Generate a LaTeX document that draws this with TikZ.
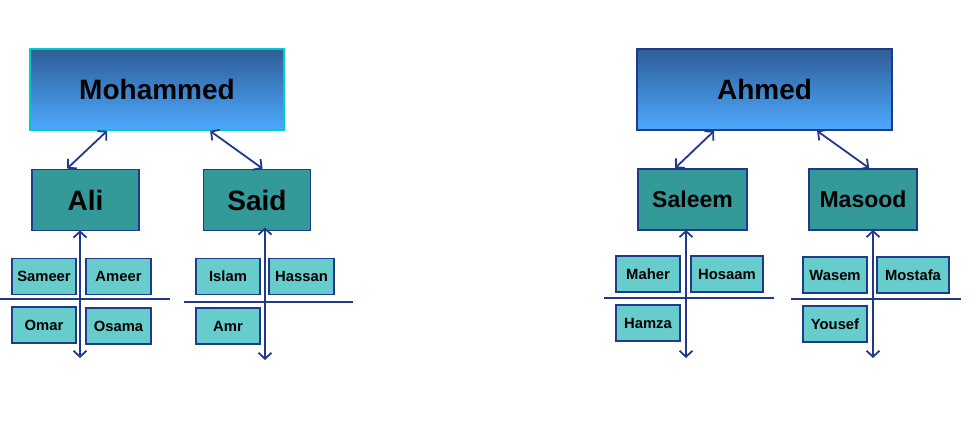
\documentclass[tikz,border=0pt]{standalone}
\usepackage{fontspec}
\setmainfont{Liberation Sans}
\usetikzlibrary{arrows.meta}
\definecolor{navy}{HTML}{1F3A8A}
\definecolor{tealdk}{HTML}{339999}
\definecolor{teallt}{HTML}{66CCCC}
\definecolor{gtop}{HTML}{2E5E96}
\definecolor{gbot}{HTML}{4DA8FF}
\definecolor{cyanb}{HTML}{00CCCC}
\tikzset{
  topbox/.style={rectangle, draw=navy, line width=1.8pt, top color=gtop, bottom color=gbot, inner sep=0pt, font=\bfseries\fontsize{28}{30}\selectfont},
  midbox/.style={rectangle, draw=navy, line width=1.8pt, fill=tealdk, inner sep=0pt, minimum width=107pt, minimum height=61pt},
  smallbox/.style={rectangle, draw=navy, line width=1.8pt, fill=teallt, inner sep=0pt, minimum width=64pt, minimum height=36pt, font=\bfseries\fontsize{14.8}{17}\selectfont},
  conn/.style={draw=navy, line width=1.8pt, {Straight Barb[length=6pt,width=13pt]}-{Straight Barb[length=6pt,width=13pt]}},
  rule/.style={draw=navy, line width=1.8pt}
}
\begin{document}
\begin{tikzpicture}[x=1pt,y=-1pt]
\useasboundingbox (0,0) rectangle (977,431);
% top boxes
\node[topbox, draw=cyanb, minimum width=254pt, minimum height=81pt] (moh) at (157,89.5) {Mohammed};
\node[topbox, minimum width=255pt, minimum height=81pt] (ahm) at (764.5,89.5) {Ahmed};
% middle boxes
\node[midbox, font=\bfseries\fontsize{28}{30}\selectfont] (ali) at (85.5,200) {Ali};
\node[midbox, font=\bfseries\fontsize{28}{30}\selectfont] (said) at (257,200) {Said};
\node[midbox, minimum width=109pt, font=\bfseries\fontsize{23}{25}\selectfont] (sal) at (692.5,199.5) {Saleem};
\node[midbox, minimum width=108pt, font=\bfseries\fontsize{23}{25}\selectfont] (mas) at (863,199.5) {Masood};
% connectors top-mid
\draw[conn] ([xshift=78pt]moh.south west) -- ([xshift=36pt]ali.north west);
\draw[conn] ([xshift=181pt]moh.south west) -- ([xshift=60pt]said.north west);
\draw[conn] ([xshift=78pt]ahm.south west) -- ([xshift=38pt]sal.north west);
\draw[conn] ([xshift=181pt]ahm.south west) -- ([xshift=61pt]mas.north west);
% horizontal rules
\draw[rule] (0,299) -- (170,299);
\draw[rule] (184,302) -- (353,302);
\draw[rule] (604,298) -- (774,298);
\draw[rule] (791,299) -- (961,299);
% small boxes
\node[smallbox] (sameer) at (44,276.5) {Sameer};
\node[smallbox, minimum width=65pt] (ameer) at (118.5,276.5) {Ameer};
\node[smallbox] (omar) at (44,325) {Omar};
\node[smallbox, minimum width=65pt] (osama) at (118.5,326) {Osama};
\node[smallbox] (islam) at (228,276.5) {Islam};
\node[smallbox, minimum width=65pt] (hassan) at (301.5,276.5) {Hassan};
\node[smallbox] (amr) at (228,326) {Amr};
\node[smallbox] (maher) at (648,274) {Maher};
\node[smallbox, minimum width=72pt] (hosaam) at (727,274) {Hosaam};
\node[smallbox] (hamza) at (648,323) {Hamza};
\node[smallbox] (wasem) at (835,275) {Wasem};
\node[smallbox, minimum width=72pt] (mostafa) at (913,275) {Mostafa};
\node[smallbox] (yousef) at (835,324) {Yousef};
% vertical arrows
\coordinate (aliend) at (80,358);
\coordinate (saidend) at (265,360);
\coordinate (salend) at (686,358);
\coordinate (masend) at (873,358);
\draw[conn] ([yshift=1pt]ali.south -| aliend) -- (aliend);
\draw[conn] ([yshift=4pt]said.south -| saidend) -- (saidend);
\draw[conn] ([yshift=1pt]sal.south -| salend) -- (salend);
\draw[conn] ([yshift=1pt]mas.south -| masend) -- (masend);
\end{tikzpicture}
\end{document}
